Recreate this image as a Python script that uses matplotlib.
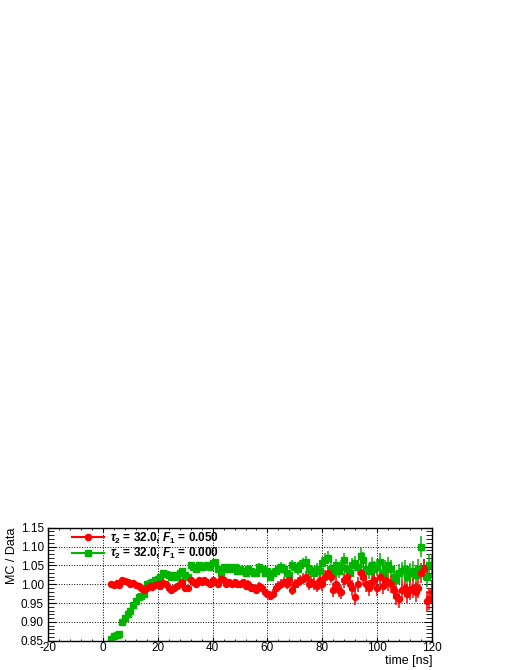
import numpy as np
import matplotlib.pyplot as plt
from matplotlib.lines import Line2D
from matplotlib.ticker import MultipleLocator

plt.rcParams['font.family'] = ['Liberation Sans', 'DejaVu Sans']
plt.rcParams['mathtext.fontset'] = 'custom'
plt.rcParams['mathtext.rm'] = 'Liberation Sans:bold'
plt.rcParams['mathtext.it'] = 'Liberation Sans:italic:bold'
plt.rcParams['axes.unicode_minus'] = False

# time bins [ns]
t = np.arange(3, 121)

# tau2 = 32.0, F1 = 0.050
ratio_a = [1.000, 0.998, 1.002, 0.998, 1.012, 1.008, 1.005, 1.000, 1.002, 0.998,
           0.995, 0.990, 0.985, 0.990, 0.995, 0.993, 0.998, 1.000, 0.995, 1.002,
           1.000, 0.990, 0.985, 0.990, 0.995, 1.000, 1.005, 0.990, 0.990, 1.010,
           1.005, 1.000, 1.010, 1.005, 1.010, 1.005, 1.000, 1.010, 1.005, 1.000,
           1.015, 1.010, 1.000, 1.005, 1.000, 1.005, 1.000, 1.000, 1.005, 0.995,
           1.000, 0.990, 0.990, 0.985, 0.995, 0.990, 0.980, 0.975, 0.970, 0.975,
           0.990, 0.995, 1.000, 1.005, 1.000, 1.010, 0.985, 1.000, 1.005, 1.010,
           1.015, 1.020, 1.000, 1.005, 1.000, 0.995, 1.010, 1.000, 1.020, 1.030,
           1.020, 0.985, 1.000, 0.985, 0.980, 1.010, 1.020, 1.000, 0.990, 0.965,
           1.000, 1.030, 1.020, 1.000, 0.990, 1.005, 1.010, 0.990, 1.020, 0.995,
           1.010, 1.005, 1.000, 0.985, 0.970, 0.960, 0.985, 0.990, 0.975, 0.985,
           0.990, 0.980, 0.990, 1.030, 1.040, 0.955, 0.960, 0.980]

# tau2 = 32.0, F1 = 0.000
ratio_b = [0.855, 0.862, 0.866, 0.868, 0.900, 0.910, 0.920, 0.930, 0.945, 0.955,
           0.965, 0.970, 0.975, 1.000, 1.002, 1.005, 1.010, 1.015, 1.020, 1.030,
           1.028, 1.025, 1.020, 1.025, 1.020, 1.030, 1.035, 1.025, 1.020, 1.050,
           1.045, 1.040, 1.050, 1.045, 1.048, 1.050, 1.045, 1.055, 1.060, 1.040,
           1.030, 1.045, 1.040, 1.045, 1.040, 1.045, 1.035, 1.040, 1.035, 1.030,
           1.040, 1.035, 1.030, 1.030, 1.045, 1.040, 1.030, 1.035, 1.020, 1.030,
           1.035, 1.040, 1.045, 1.040, 1.030, 1.025, 1.050, 1.045, 1.040, 1.050,
           1.055, 1.060, 1.040, 1.035, 1.030, 1.040, 1.035, 1.055, 1.065, 1.070,
           1.040, 1.030, 1.050, 1.035, 1.045, 1.065, 1.040, 1.030, 1.050, 1.055,
           1.045, 1.075, 1.065, 1.040, 1.035, 1.050, 1.040, 1.045, 1.060, 1.030,
           1.040, 1.050, 1.040, 1.020, 1.010, 1.030, 1.035, 1.040, 1.020, 1.030,
           1.035, 1.025, 1.040, 1.100, 1.040, 1.020, 1.050, 1.050]

# statistical errors (same for both curves)
err = [0.002, 0.002, 0.002, 0.002, 0.002, 0.002, 0.002, 0.002, 0.002, 0.002,
       0.002, 0.002, 0.002, 0.002, 0.002, 0.003, 0.003, 0.003, 0.003, 0.003,
       0.003, 0.003, 0.004, 0.004, 0.004, 0.004, 0.004, 0.005, 0.005, 0.005,
       0.005, 0.005, 0.006, 0.006, 0.006, 0.006, 0.007, 0.007, 0.007, 0.007,
       0.008, 0.008, 0.008, 0.008, 0.009, 0.009, 0.009, 0.009, 0.010, 0.010,
       0.010, 0.010, 0.011, 0.011, 0.011, 0.011, 0.012, 0.012, 0.012, 0.012,
       0.013, 0.013, 0.013, 0.013, 0.014, 0.014, 0.014, 0.014, 0.015, 0.015,
       0.015, 0.015, 0.016, 0.016, 0.016, 0.016, 0.017, 0.017, 0.017, 0.017,
       0.018, 0.018, 0.018, 0.018, 0.019, 0.019, 0.019, 0.019, 0.020, 0.020,
       0.020, 0.020, 0.021, 0.021, 0.021, 0.021, 0.022, 0.022, 0.022, 0.022,
       0.023, 0.023, 0.023, 0.024, 0.024, 0.024, 0.025, 0.025, 0.025, 0.026,
       0.026, 0.026, 0.027, 0.027, 0.028, 0.028, 0.029, 0.030]

red = '#ff0000'
green = '#00b400'

fig = plt.figure(figsize=(5.18, 6.70), dpi=100)
ax = fig.add_axes([0.0927, 0.0437, 0.7413, 0.1687])

ax.errorbar(t, ratio_b, yerr=err, fmt='s', color=green, ms=4.0, elinewidth=1.1, capsize=0)
ax.errorbar(t, ratio_a, yerr=err, fmt='o', color=red, ms=4.3, elinewidth=1.1, capsize=0)

ax.set_xlim(-20, 120)
ax.set_ylim(0.85, 1.15)
ax.xaxis.set_major_locator(MultipleLocator(20))
ax.xaxis.set_minor_locator(MultipleLocator(4))
ax.yaxis.set_major_locator(MultipleLocator(0.05))
ax.yaxis.set_minor_locator(MultipleLocator(0.01))
ax.yaxis.set_major_formatter(plt.FormatStrFormatter('%.2f'))
ax.tick_params(which='both', direction='in', top=True, right=True, labelsize=8.5)
ax.tick_params(axis='y', which='major', length=6, pad=3)
ax.tick_params(axis='y', which='minor', length=4)
ax.tick_params(axis='x', which='major', length=3, pad=1)
ax.tick_params(axis='x', which='minor', length=1.5)
ax.grid(True, which='major', color='black', linestyle=':', linewidth=0.7)
for s in ax.spines.values():
    s.set_linewidth(1)

ax.set_xlabel('time [ns]', fontsize=9, loc='right', labelpad=1)
ax.set_ylabel('MC / Data', fontsize=9, loc='top', labelpad=2)

handles = [Line2D([], [], color=red, marker='o', ms=4.5, lw=1.5),
           Line2D([], [], color=green, marker='s', ms=4.5, lw=1.5)]
labels = [r'$\tau_{2}$ = 32.0, $F_{1}$ = 0.050', r'$\tau_{2}$ = 32.0, $F_{1}$ = 0.000']
ax.legend(handles, labels, loc='upper left', bbox_to_anchor=(0.035, 1.07), frameon=False,
          handlelength=2.7, handletextpad=0.55, labelspacing=0.05,
          prop={'weight': 'bold', 'size': 8.5})

fig.savefig('out.png', dpi=100)
